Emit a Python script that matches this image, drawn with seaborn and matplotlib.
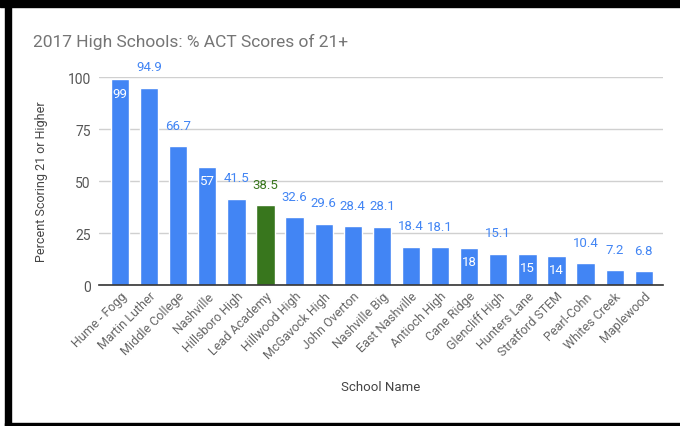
import matplotlib
matplotlib.use("Agg")
import matplotlib.pyplot as plt
import seaborn as sns
import pandas as pd
from matplotlib.patches import Rectangle

schools = ["Hume - Fogg", "Martin Luther", "Middle College", "Nashville", "Hillsboro High",
           "Lead Academy", "Hillwood High", "McGavock High", "John Overton", "Nashville Big",
           "East Nashville", "Antioch High", "Cane Ridge", "Glencliff High", "Hunters Lane",
           "Stratford STEM", "Pearl-Cohn", "Whites Creek", "Maplewood"]
scores = [99, 94.9, 66.7, 57, 41.5, 38.5, 32.6, 29.6, 28.4, 28.1,
          18.4, 18.1, 18, 15.1, 15, 14, 10.4, 7.2, 6.8]
highlight = "Lead Academy"
inside_labels = {"Hume - Fogg", "Nashville", "Cane Ridge", "Hunters Lane", "Stratford STEM"}

BLUE = "#4285f4"
GREEN = "#38761d"

df = pd.DataFrame({"school": schools, "score": scores})
df["group"] = ["hl" if s == highlight else "base" for s in schools]

sns.set_style("white")
plt.rcParams["font.family"] = ["Roboto", "DejaVu Sans"]

fig = plt.figure(figsize=(6.8, 4.27), dpi=100)
ax = fig.add_axes([0.1456, 0.330, 0.829, 0.487])

sns.barplot(data=df, x="school", y="score", hue="group",
            palette={"base": BLUE, "hl": GREEN}, width=0.63,
            legend=False, ax=ax, saturation=1)

# hue puts patches in group order, so map them back by position
for patch in ax.patches:
    cx = patch.get_x() + patch.get_width() / 2
    i = int(round(cx))
    if i < 0 or i >= len(schools) or patch.get_height() == 0:
        continue
    name, val = schools[i], scores[i]
    color = GREEN if name == highlight else BLUE
    if name in inside_labels:
        ax.annotate(f"{val:g}", (cx, val), xytext=(0, -10), textcoords="offset points",
                    ha="center", va="center", color="white", fontsize=9.5)
    else:
        ax.annotate(f"{val:g}", (cx, val), xytext=(0, 15), textcoords="offset points",
                    ha="center", va="center", color=color, fontsize=9.5,
                    annotation_clip=False)

ax.set_ylim(0, 100)
ax.set_xlim(-0.72, 18.65)
ax.set_yticks([0, 25, 50, 75, 100])
ax.yaxis.grid(True, color="#d0d0d0", linewidth=1)
ax.set_axisbelow(True)
for s in ["top", "right", "left"]:
    ax.spines[s].set_visible(False)
ax.spines["bottom"].set_color("#333333")
ax.spines["bottom"].set_linewidth(1.2)
ax.tick_params(axis="y", length=0, labelsize=10, labelcolor="#555555", pad=6)
ax.tick_params(axis="x", length=0, labelsize=9, labelcolor="#666666", pad=3)
plt.setp(ax.get_xticklabels(), rotation=45, ha="right", rotation_mode="anchor")

ax.set_xlabel("School Name", fontsize=9.5, color="#444444", labelpad=14)
ax.set_ylabel("Percent Scoring 21 or Higher", fontsize=9, color="#444444", labelpad=14)

fig.text(33 / 680, 1 - 42 / 427, "2017 High Schools: % ACT Scores of 21+",
         fontsize=12.5, color="#757575", ha="left", va="center")

# black frame around the screenshot
fig.patches.append(Rectangle((0, 1 - 8 / 427), 1, 8 / 427, transform=fig.transFigure,
                             color="black", zorder=10))
fig.patches.append(Rectangle((5 / 680, 0), 6 / 680, 1, transform=fig.transFigure,
                             color="black", zorder=10))
fig.patches.append(Rectangle((5 / 680, 0), 1, 3 / 427, transform=fig.transFigure,
                             color="black", zorder=10))

fig.savefig("out.png", dpi=100)
